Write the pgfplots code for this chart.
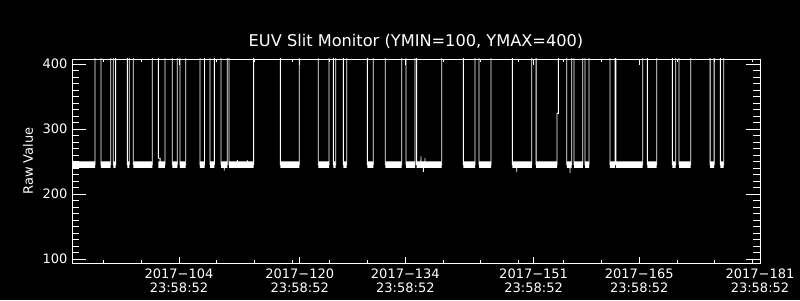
\documentclass[border=0pt]{standalone}
\usepackage{pgfplots}
\pgfplotsset{compat=1.18}
\usetikzlibrary{backgrounds}
\usepackage{fontspec}
\setmainfont{DejaVu Sans}
\begin{document}
\begin{tikzpicture}
\begin{axis}[
  scale only axis, width=688pt, height=204pt,
  xmin=89.82, xmax=181, ymin=93.8, ymax=407.7,
  axis line style={white, line width=0.9pt},
  tick align=inside,
  every tick/.style={white, line width=0.9pt},
  every x tick/.append style={/pgfplots/major tick length=6.5pt, /pgfplots/minor tick length=3pt},
  every y tick/.append style={/pgfplots/major tick length=14pt, /pgfplots/minor tick length=7pt},
  xtick={104,120,134,151,165,181},
  xticklabels={{2017−104\\23:58:52},{2017−120\\23:58:52},{2017−134\\23:58:52},{2017−151\\23:58:52},{2017−165\\23:58:52},{2017−181\\23:58:52}},
  minor xtick={94,99,109,114,119,124,129,139,144,149,155,160,170,175,180},
  xticklabel style={align=center, anchor=north, inner sep=0pt, yshift=-5.3pt, text=white, font=\fontsize{13}{14}\selectfont},
  ytick={100,200,300,400},
  minor ytick={110,120,130,140,150,160,170,180,190,210,220,230,240,250,260,270,280,290,310,320,330,340,350,360,370,380,390},
  yticklabel style={anchor=east, inner sep=0pt, xshift=-4.3pt, text=white, font=\fontsize{13}{14}\selectfont, /pgf/number format/assume math mode=true},
  ylabel={Raw Value},
  ylabel style={at={(axis description cs:-0.0567,0.5)}, anchor=base, inner sep=0pt, text=white, font=\fontsize{13}{14}\selectfont},
  title={EUV Slit Monitor (YMIN=100, YMAX=400)},
  title style={at={(axis description cs:0.5,1)}, anchor=base, yshift=6.3pt, inner sep=0pt, text=white, font=\fontsize{16.2}{17}\selectfont},
]
\coordinate (SW) at (rel axis cs:0,0);
% noise band (range of the low-state values, about 240 to 250)
\addplot[fill=white, draw=none, unbounded coords=jump] coordinates {
(89.82,240)(89.82,250.3)(92.87,250.3)(92.87,240)(92.87,nan)
(93.66,240)(93.66,250.3)(94.95,250.3)(94.95,240)(94.95,nan)
(95.29,240)(95.29,250.3)(95.61,250.3)(95.61,240)(95.61,nan)
(97.15,240)(97.15,250.3)(97.41,250.3)(97.41,240)(97.41,nan)
(97.94,240)(97.94,250.3)(100.46,250.3)(100.46,240)(100.46,nan)
(101.26,240)(101.26,250.3)(102.14,250.3)(102.14,240)(102.14,nan)
(103.11,240)(103.11,250.3)(103.77,250.3)(103.77,240)(103.77,nan)
(104.13,240)(104.13,250.3)(104.89,250.3)(104.89,240)(104.89,nan)
(106.78,240)(106.78,250.3)(107.38,250.3)(107.38,240)(107.38,nan)
(108.11,240)(108.11,250.3)(108.68,250.3)(108.68,240)(108.68,nan)
(109.57,240)(109.57,250.3)(110.40,250.3)(110.40,240)(110.40,nan)
(110.63,240)(110.63,250.3)(113.90,250.3)(113.90,240)(113.90,nan)
(117.43,240)(117.43,250.3)(119.94,250.3)(119.94,240)(119.94,nan)
(122.46,240)(122.46,250.3)(123.88,250.3)(123.88,240)(123.88,nan)
(124.45,240)(124.45,250.3)(124.77,250.3)(124.77,240)(124.77,nan)
(125.78,240)(125.78,250.3)(126.23,250.3)(126.23,240)(126.23,nan)
(128.96,240)(128.96,250.3)(129.75,250.3)(129.75,240)(129.75,nan)
(131.34,240)(131.34,250.3)(133.52,250.3)(133.52,240)(133.52,nan)
(134.09,240)(134.09,250.3)(135.28,250.3)(135.28,240)(135.28,nan)
(135.50,240)(135.50,250.3)(138.82,250.3)(138.82,240)(138.82,nan)
(141.68,240)(141.68,250.3)(143.23,250.3)(143.23,240)(143.23,nan)
(143.76,240)(143.76,250.3)(145.35,250.3)(145.35,240)(145.35,nan)
(148.18,240)(148.18,250.3)(150.75,250.3)(150.75,240)(150.75,nan)
(151.32,240)(151.32,250.3)(154.10,250.3)(154.10,240)(154.10,nan)
(155.39,240)(155.39,250.3)(156.05,250.3)(156.05,240)(156.05,nan)
(156.35,240)(156.35,250.3)(157.51,250.3)(157.51,240)(157.51,nan)
(157.81,240)(157.81,250.3)(158.34,250.3)(158.34,240)(158.34,nan)
(161.12,240)(161.12,250.3)(161.79,250.3)(161.79,240)(161.79,nan)
(161.92,240)(161.92,250.3)(165.46,250.3)(165.46,240)(165.46,nan)
(166.07,240)(166.07,250.3)(167.31,250.3)(167.31,240)(167.31,nan)
(169.38,240)(169.38,250.3)(169.83,250.3)(169.83,240)(169.83,nan)
(170.27,240)(170.27,250.3)(171.82,250.3)(171.82,240)(171.82,nan)
(174.38,240)(174.38,250.3)(174.91,250.3)(174.91,240)(174.91,nan)
(175.74,240)(175.74,250.3)(176.19,250.3)(176.19,240)
};
% signal (high state is above 400 and off the top of the plot)
\addplot[white, line width=0.9pt] coordinates {
(89.82,245) (92.87,245) (92.87,430)
(93.66,430) (93.66,245) (94.95,245) (94.95,430)
(95.29,430) (95.29,245) (95.61,245) (95.61,430)
(97.15,430) (97.15,245) (97.41,245) (97.41,430)
(97.94,430) (97.94,245) (100.46,245) (100.46,430)
(101.26,430) (101.26,255) (101.49,255) (101.49,245) (102.14,245) (102.14,430)
(103.11,430) (103.11,245) (103.77,245) (103.77,430)
(104.13,430) (104.13,245) (104.89,245) (104.89,430)
(106.78,430) (106.78,245) (107.38,245) (107.38,430)
(108.11,430) (108.11,245) (108.68,245) (108.68,430)
(109.57,430) (109.57,245) (109.99,245) (110.00,236) (110.01,245) (110.40,245) (110.40,430)
(110.63,430) (110.63,245) (111.72,245) (111.73,252) (111.74,245) (113.04,245) (113.05,252) (113.06,245) (113.90,245) (113.90,430)
(117.43,430) (117.43,245) (119.94,245) (119.94,430)
(122.46,430) (122.46,245) (123.88,245) (123.88,430)
(124.45,430) (124.45,245) (124.77,245) (124.77,430)
(125.78,430) (125.78,245) (126.23,245) (126.23,430)
(128.96,430) (128.96,245) (129.75,245) (129.75,430)
(131.34,430) (131.34,245) (133.52,245) (133.52,430)
(134.09,430) (134.09,245) (135.28,245) (135.28,430)
(135.50,430) (135.50,245) (136.06,245) (136.07,258) (136.08,245) (136.37,245) (136.38,234) (136.39,245) (136.59,245) (136.60,255) (136.61,245) (138.82,245) (138.82,430)
(141.68,430) (141.68,245) (143.23,245) (143.23,430)
(143.76,430) (143.76,245) (145.35,245) (145.35,430)
(148.18,430) (148.18,245) (148.75,245) (148.76,234) (148.77,245) (150.75,245) (150.75,430)
(151.32,430) (151.32,245) (154.10,245) (154.10,324) (154.27,324) (154.27,430)
(155.39,430) (155.39,245) (155.81,245) (155.82,232) (155.83,245) (156.05,245) (156.05,430)
(156.35,430) (156.35,245) (157.51,245) (157.51,430)
(157.81,430) (157.81,245) (158.34,245) (158.34,430)
(161.12,430) (161.12,245) (161.79,245) (161.79,430)
(161.92,430) (161.92,245) (165.46,245) (165.46,430)
(166.07,430) (166.07,245) (167.31,245) (167.31,430)
(169.38,430) (169.38,245) (169.83,245) (169.83,430)
(170.27,430) (170.27,245) (171.82,245) (171.82,430)
(174.38,430) (174.38,245) (174.91,245) (174.91,430)
(175.74,430) (175.74,245) (176.19,245) (176.19,430)
(181,430)
};
\end{axis}
\begin{scope}[on background layer]
\fill[black] ([shift={(-72pt,-37pt)}]SW) rectangle ([shift={(728pt,263pt)}]SW);
\end{scope}
\pgfresetboundingbox
\path[use as bounding box] ([shift={(-72pt,-37pt)}]SW) rectangle ([shift={(728pt,263pt)}]SW);
\end{tikzpicture}
\end{document}
